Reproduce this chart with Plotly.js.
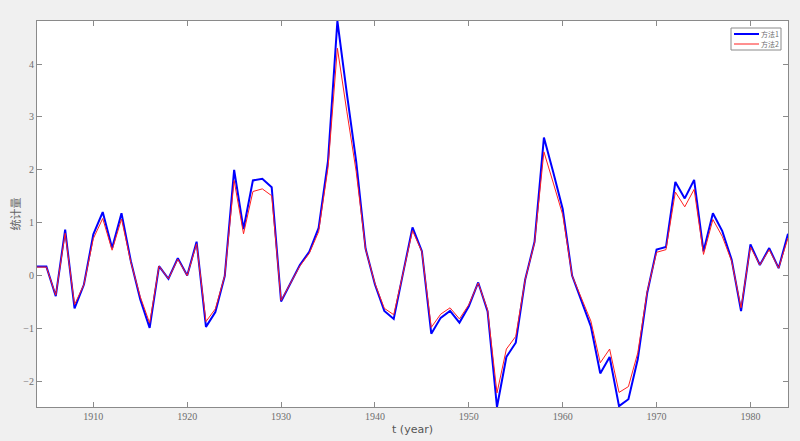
<!DOCTYPE html>
<html>
<head>
<meta charset="utf-8">
<script src="https://cdn.plot.ly/plotly-3.0.1.min.js"></script>
<style>
  html, body { margin: 0; padding: 0; background: #f0f0f0; }
  #chart { width: 800px; height: 441px; }
</style>
</head>
<body>
<div id="chart"></div>
<script>
// Years 1904..1984
const years = [
  1904,1905,1906,1907,1908,1909,1910,1911,1912,1913,
  1914,1915,1916,1917,1918,1919,1920,1921,1922,1923,
  1924,1925,1926,1927,1928,1929,1930,1931,1932,1933,
  1934,1935,1936,1937,1938,1939,1940,1941,1942,1943,
  1944,1945,1946,1947,1948,1949,1950,1951,1952,1953,
  1954,1955,1956,1957,1958,1959,1960,1961,1962,1963,
  1964,1965,1966,1967,1968,1969,1970,1971,1972,1973,
  1974,1975,1976,1977,1978,1979,1980,1981,1982,1983,
  1984
];

// 方法1 (blue)
const method1 = [
  0.17, 0.17, -0.39, 0.87, -0.62, -0.17, 0.78, 1.20, 0.52, 1.18,
  0.27, -0.45, -0.99, 0.18, -0.06, 0.33, 0.00, 0.64, -0.97, -0.69,
  -0.01, 2.00, 0.88, 1.80, 1.83, 1.67, -0.49, -0.14, 0.20, 0.45,
  0.90, 2.17, 4.815, 3.45, 2.16, 0.51, -0.17, -0.67, -0.82, 0.05,
  0.91, 0.46, -1.10, -0.80, -0.67, -0.89, -0.58, -0.13, -0.68, -2.486,
  -1.54, -1.27, -0.08, 0.64, 2.61, 1.95, 1.26, 0.00, -0.49, -0.96,
  -1.85, -1.54, -2.47, -2.34, -1.58, -0.33, 0.49, 0.54, 1.77, 1.46,
  1.81, 0.46, 1.18, 0.84, 0.30, -0.67, 0.59, 0.20, 0.52, 0.14,
  0.79
];

// 方法2 (red)
const method2 = [
  0.16, 0.16, -0.37, 0.80, -0.55, -0.17, 0.70, 1.08, 0.48, 1.07,
  0.25, -0.40, -0.90, 0.18, -0.06, 0.31, 0.00, 0.60, -0.87, -0.63,
  0.00, 1.80, 0.79, 1.59, 1.64, 1.51, -0.47, -0.14, 0.18, 0.42,
  0.83, 2.04, 4.30, 3.11, 1.97, 0.50, -0.15, -0.62, -0.74, 0.05,
  0.85, 0.45, -0.98, -0.73, -0.61, -0.82, -0.55, -0.14, -0.65, -2.22,
  -1.39, -1.15, -0.08, 0.62, 2.34, 1.75, 1.15, 0.00, -0.42, -0.86,
  -1.65, -1.39, -2.21, -2.10, -1.46, -0.30, 0.44, 0.49, 1.58, 1.30,
  1.63, 0.40, 1.06, 0.74, 0.27, -0.61, 0.54, 0.20, 0.49, 0.14,
  0.71
];

const seriesNames = ['方法1', '方法2'];
const seriesColors = ['#0000ff', '#ff2020'];
const seriesWidths = [2, 1];
const xTickVals = [1910, 1920, 1930, 1940, 1950, 1960, 1970, 1980];
const yTickVals = [-2, -1, 0, 1, 2, 3, 4];

const allY = method1.concat(method2);
const yMin = Math.min(...allY), yMax = Math.max(...allY);

const tickFont = { family: 'Times New Roman, Liberation Serif, serif', size: 10, color: '#6e6e6e' };
const legendFont = { family: 'Noto Sans CJK SC, sans-serif', size: 7, color: '#6e6e6e' };

const traces = [method1, method2].map((ys, i) => ({
  x: years, y: ys, name: seriesNames[i], type: 'scatter', mode: 'lines',
  line: { color: seriesColors[i], width: seriesWidths[i] }
}));

const axisCommon = {
  showline: true, linecolor: '#8a8a8a', linewidth: 1, mirror: 'ticks',
  ticks: 'inside', ticklen: 5, tickwidth: 1, tickcolor: '#8a8a8a',
  showgrid: false, zeroline: false, tickfont: tickFont
};

// Compact MATLAB-style legend box (paper coordinates, top-right of axes)
const W = 800, H = 441, mL = 37, mR = 12, mT = 21, mB = 34;
const pw = W - mL - mR, ph = H - mT - mB;
const px = v => (v - mL) / pw;          // pixel -> paper x
const py = v => 1 - (v - mT) / ph;      // pixel -> paper y
const box = { x0: 731, x1: 781, y0: 28, y1: 50 };
const shapes = [{
  type: 'rect', xref: 'paper', yref: 'paper',
  x0: px(box.x0), x1: px(box.x1), y0: py(box.y1), y1: py(box.y0),
  fillcolor: '#ffffff', line: { color: '#8a8a8a', width: 1 }
}];
const annotations = [];
seriesNames.forEach((name, i) => {
  const yy = 34 + i * 10;
  shapes.push({ type: 'line', xref: 'paper', yref: 'paper',
    x0: px(734), x1: px(759), y0: py(yy), y1: py(yy),
    line: { color: seriesColors[i], width: seriesWidths[i] } });
  annotations.push({ xref: 'paper', yref: 'paper', x: px(760), y: py(yy),
    xanchor: 'left', yanchor: 'middle', showarrow: false, borderpad: 0,
    text: name, font: legendFont });
});

const layout = {
  width: W, height: H,
  paper_bgcolor: '#f0f0f0', plot_bgcolor: '#ffffff',
  margin: { l: mL, r: mR, t: mT, b: mB },
  showlegend: false,
  shapes: shapes,
  annotations: annotations,
  xaxis: Object.assign({}, axisCommon, {
    range: [years[0], years[years.length - 1]],
    tickvals: xTickVals,
    title: { text: 't (year)', font: { family: 'DejaVu Sans, sans-serif', size: 11, color: '#555555' }, standoff: 4 }
  }),
  yaxis: Object.assign({}, axisCommon, {
    range: [yMin, yMax],
    tickvals: yTickVals,
    title: { text: '统计量', font: { family: 'Noto Sans CJK SC, sans-serif', size: 11, color: '#666666' }, standoff: 0 }
  })
};

Plotly.newPlot('chart', traces, layout, { displayModeBar: false, staticPlot: true });
</script>
</body>
</html>
